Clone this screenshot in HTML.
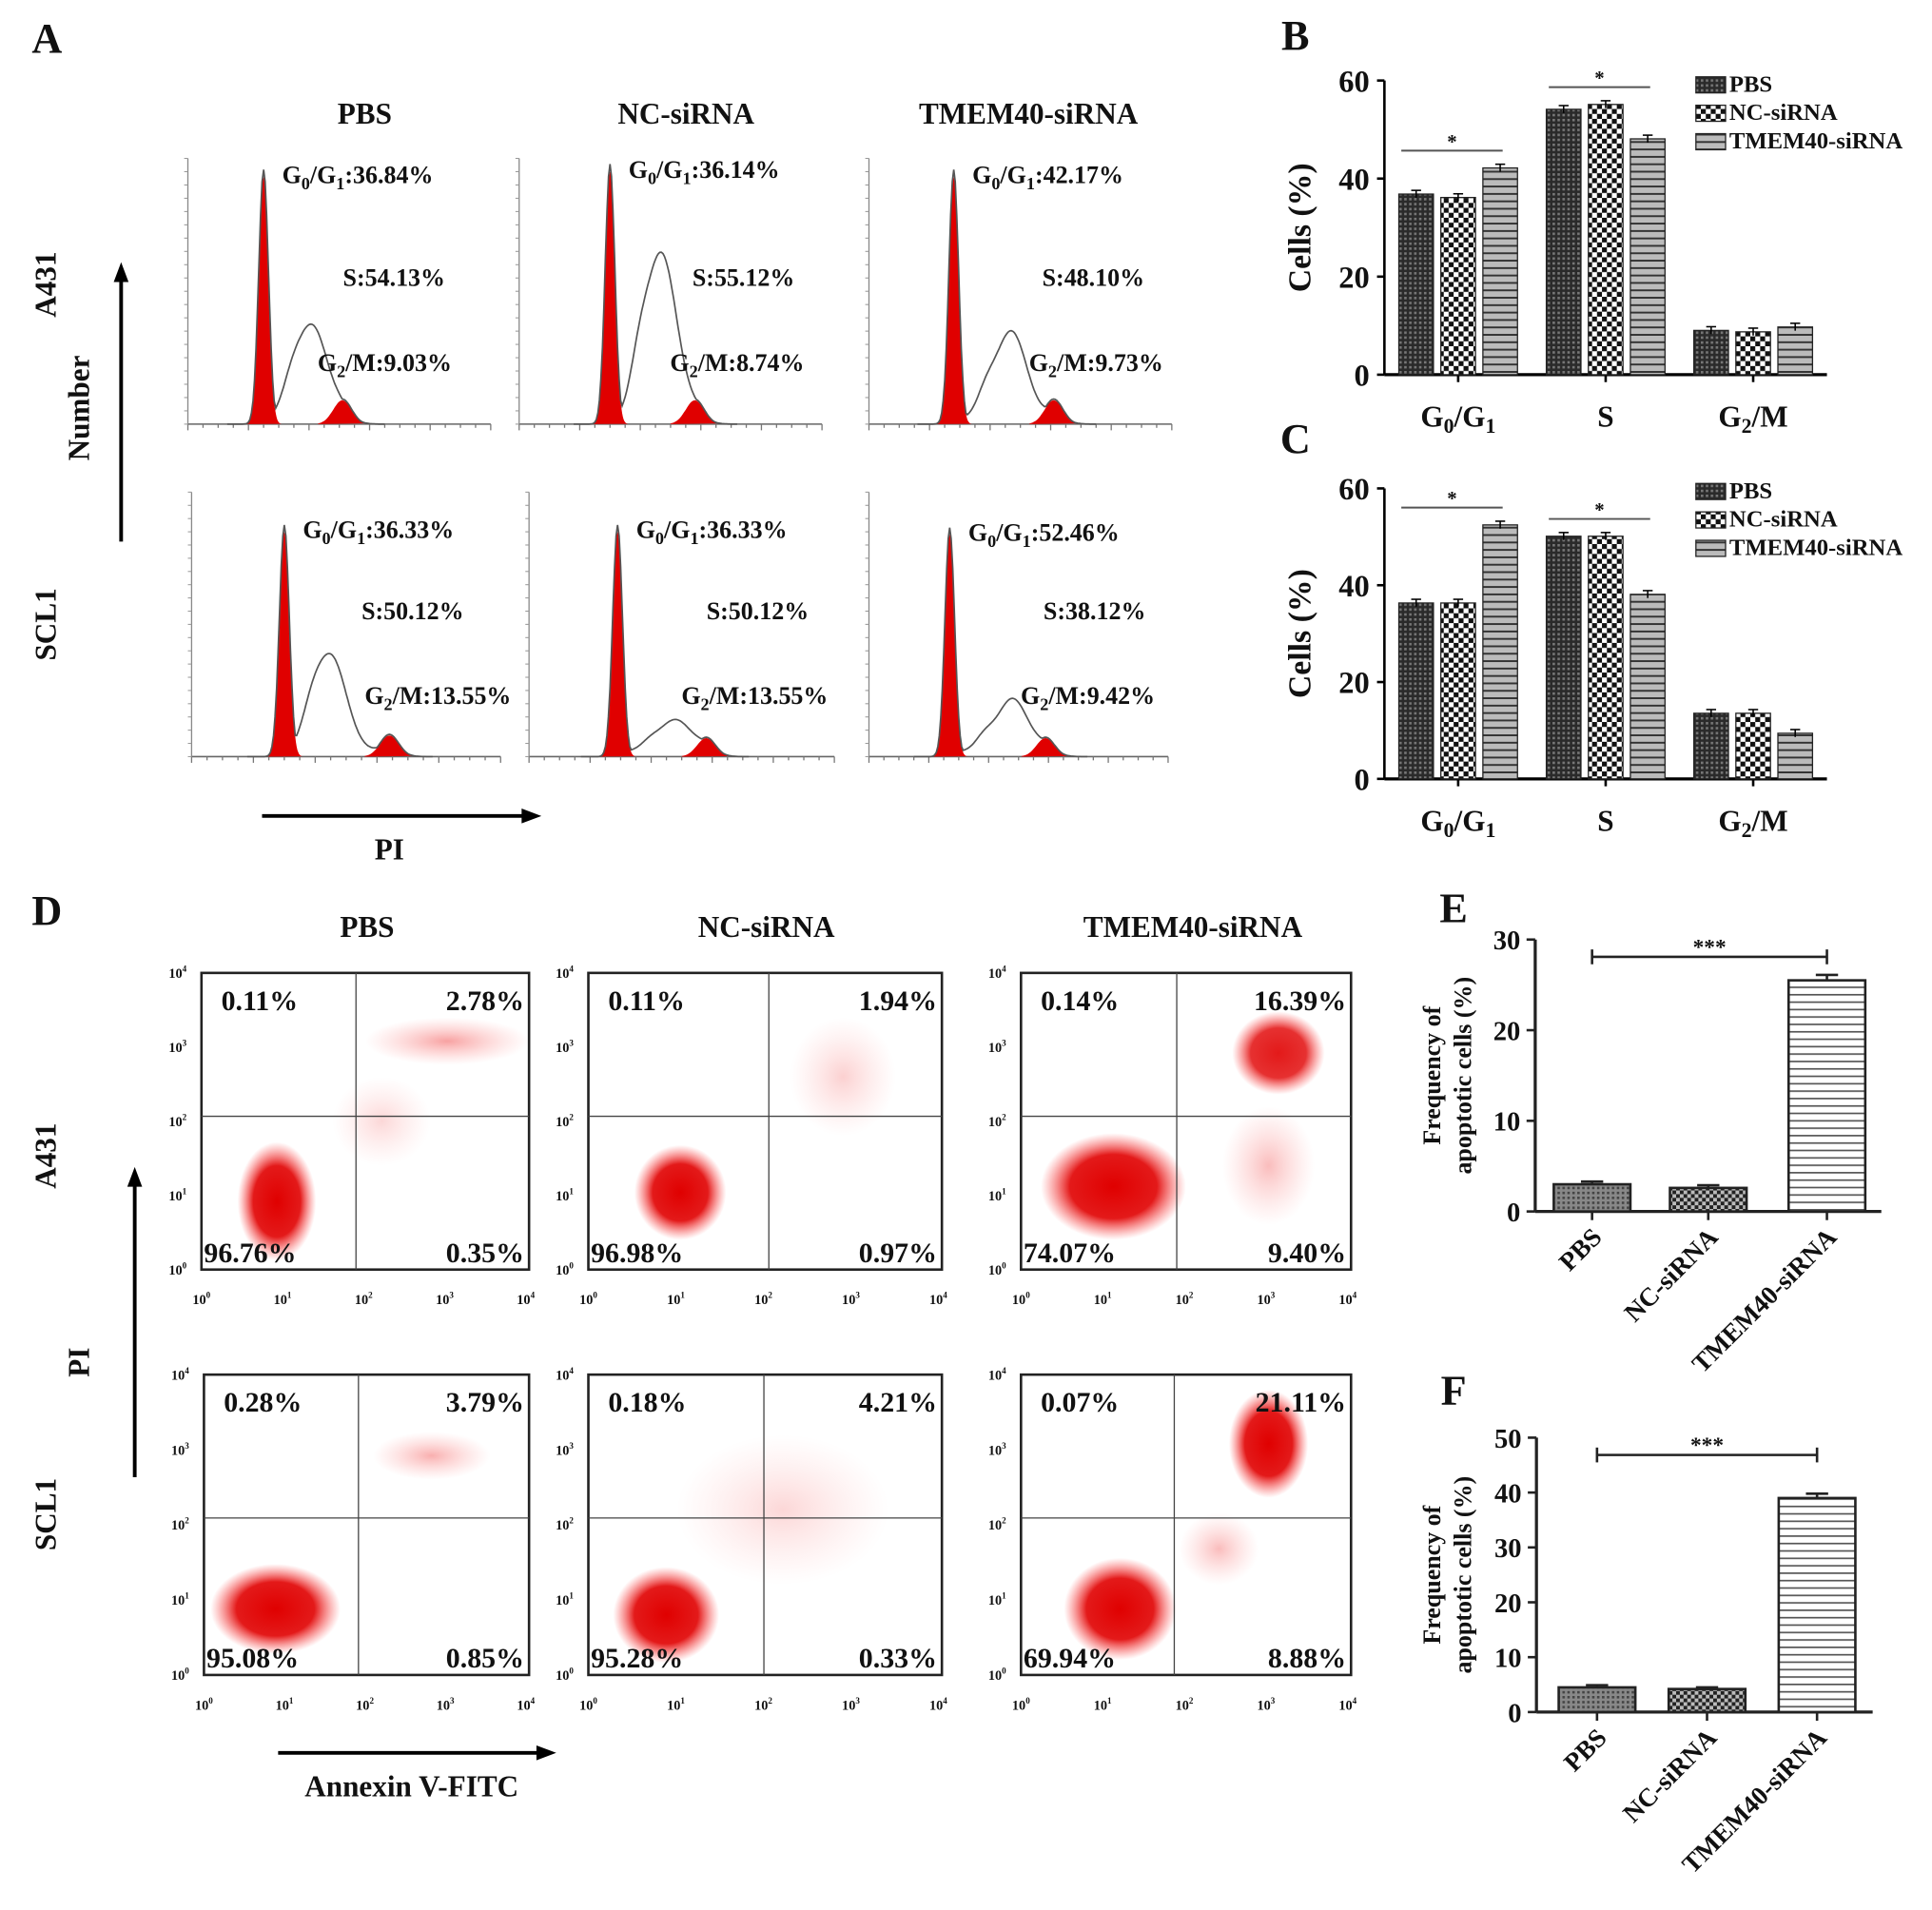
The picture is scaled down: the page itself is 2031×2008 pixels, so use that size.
<!DOCTYPE html>
<html><head><meta charset="utf-8"><style>
html,body{margin:0;padding:0;background:#fff}
svg{display:block}
text{font-family:"Liberation Serif",serif;font-weight:bold;fill:#111}
</style></head><body>
<svg id="fig" width="2031" height="2008" viewBox="0 0 1563 1545" xmlns="http://www.w3.org/2000/svg">
<defs>
<pattern id="pPBS" width="4" height="4" patternUnits="userSpaceOnUse"><rect width="4" height="4" fill="#2a2a2a"/><rect width="2" height="2" fill="#777"/></pattern>
<pattern id="pNC" width="8" height="8" patternUnits="userSpaceOnUse"><rect width="8" height="8" fill="#fff"/><rect width="4" height="4" fill="#111"/><rect x="4" y="4" width="4" height="4" fill="#111"/></pattern>
<pattern id="pTM" width="6" height="6" patternUnits="userSpaceOnUse"><rect width="6" height="6" fill="#bbb"/><rect y="0" width="6" height="1.5" fill="#333"/></pattern>
<pattern id="pE1" width="4" height="4" patternUnits="userSpaceOnUse"><rect width="4" height="4" fill="#888"/><rect width="2" height="2" fill="#444"/></pattern>
<pattern id="pE2" width="6" height="6" patternUnits="userSpaceOnUse"><rect width="6" height="6" fill="#bbb"/><rect width="3" height="3" fill="#222"/><rect x="3" y="3" width="3" height="3" fill="#222"/></pattern>
<pattern id="pE3" width="6" height="6" patternUnits="userSpaceOnUse"><rect width="6" height="6" fill="#fff"/><rect width="6" height="1.3" fill="#555"/></pattern>
<radialGradient id="gRed"><stop offset="0" stop-color="#e00000" stop-opacity="1"/><stop offset="0.6" stop-color="#e00000" stop-opacity="0.9"/><stop offset="1" stop-color="#ff4040" stop-opacity="0"/></radialGradient>
<radialGradient id="gRedL"><stop offset="0" stop-color="#f04040" stop-opacity="0.7"/><stop offset="1" stop-color="#ff8080" stop-opacity="0"/></radialGradient>
</defs>
<g id="root"></g>
</svg>
<script>
// ---- Panel A histogram data (model parameters, PI position 0-100, height fraction) ----
const histG1Pos=[25,30,28,30,29,27];
const histG1H=[0.93,0.95,0.93,0.85,0.85,0.84];
const histSPos=[41,47,47,45,48,48];
const histSH=[0.35,0.62,0.33,0.36,0.12,0.2];
const histG2Pos=[51,58,61,64,58,59];
const histG2H=[0.09,0.09,0.09,0.08,0.07,0.07];
const histLabels=[["36.84","54.13","9.03"],["36.14","55.12","8.74"],["42.17","48.10","9.73"],["36.33","50.12","13.55"],["36.33","50.12","13.55"],["52.46","38.12","9.42"]];
// ---- Panel B/C data ----
const phases=["G0/G1","S","G2/M"];
const groups=["PBS","NC-siRNA","TMEM40-siRNA"];
const bPBS=[36.84,54.13,9.03], bNC=[36.14,55.12,8.74], bTM=[42.17,48.10,9.73];
const cPBS=[36.33,50.12,13.55], cNC=[36.33,50.12,13.55], cTM=[52.46,38.12,9.42];
const cellTicks=[0,20,40,60];
// ---- Panel D quadrant percentages [UL, UR, LL, LR] ----
const quadA431=[["0.11%","2.78%","96.76%","0.35%"],["0.11%","1.94%","96.98%","0.97%"],["0.14%","16.39%","74.07%","9.40%"]];
const quadSCL1=[["0.28%","3.79%","95.08%","0.85%"],["0.18%","4.21%","95.28%","0.33%"],["0.07%","21.11%","69.94%","8.88%"]];
// ---- Panel E/F data ----
const eVals=[3.0,2.6,25.5], eErr=[0.3,0.3,0.6];
const fVals=[4.5,4.2,39.0], fErr=[0.4,0.3,0.8];
const eTicks=[0,10,20,30], fTicks=[0,10,20,30,40,50];

const NS="http://www.w3.org/2000/svg";
const root=document.getElementById('root');
function el(tag,attrs,parent){const e=document.createElementNS(NS,tag);for(const k in attrs)e.setAttribute(k,attrs[k]);(parent||root).appendChild(e);return e;}
function txt(x,y,s,size,parent,anchor,extra){const t=el('text',Object.assign({x:x,y:y,'font-size':size,'text-anchor':anchor||'middle'},extra||{}),parent);t.innerHTML=s;return t;}
// subscript: "_X" lowers only X
function SUB(a){
  const parts=a.split(/_(\w)/);let out=parts[0];
  for(let i=1;i<parts.length;i+=2){out+='<tspan font-size="70%" dy="5">'+parts[i]+'</tspan><tspan dy="-5">'+(parts[i+1]||'')+'</tspan>';}
  return out;
}

// ---------- Panel A ----------
const gA=el('g',{});


txt(38,42,'A',34,gA);
[['PBS',295],['NC-siRNA',555],['TMEM40-siRNA',832]].forEach(([s,x])=>{const t=txt(x,100,s,24,gA);});
txt(45,230,'A431',24,gA,'middle',{transform:'rotate(-90 45 230)'});
txt(45,505,'SCL1',24,gA,'middle',{transform:'rotate(-90 45 505)'});
txt(72,330,'Number',24,gA,'middle',{transform:'rotate(-90 72 330)'});
el('line',{x1:98,y1:438,x2:98,y2:222,stroke:'#000','stroke-width':3},gA);
el('polygon',{points:'98,212 92,228 104,228',fill:'#000'},gA);
el('line',{x1:212,y1:660,x2:425,y2:660,stroke:'#000','stroke-width':3},gA);
el('polygon',{points:'438,660 422,654 422,666',fill:'#000'},gA);
txt(315,695,'PI',24,gA);
const histBoxes=[[152,397,343,215],[420,665,343,215],[703,948,343,215],[155,405,612,214],[428,675,612,214],[703,945,612,214]];
const gauss=(v,m,s)=>Math.exp(-0.5*((v-m)/s)**2);
histBoxes.forEach((b,i)=>{
  const g=el('g',{},gA);
  
  
  const [x0,x1,base,H]=b; const xs=v=>x0+(x1-x0)*v/100; const ys=f=>base-H*f;
  el('line',{x1:x0,y1:base,x2:x1,y2:base,stroke:'#666','stroke-width':1.2},g);
  el('line',{x1:x0,y1:base,x2:x0,y2:base-H,stroke:'#888','stroke-width':1},g);
  for(let k=0;k<=20;k++){el('line',{x1:xs(k*5),y1:base,x2:xs(k*5),y2:base+(k%4==0?5:3),stroke:'#777','stroke-width':1},g);}
  for(let k=0;k<=20;k++){el('line',{x1:x0,y1:base-H*k/20,x2:x0-3,y2:base-H*k/20,stroke:'#999','stroke-width':0.8},g);}
  const g1=v=>histG1H[i]*gauss(v,histG1Pos[i],1.6);
  const g2=v=>histG2H[i]*gauss(v,histG2Pos[i],3);
  const sC=v=>histSH[i]*gauss(v,histSPos[i],5)+0.6*histSH[i]*gauss(v,(histG1Pos[i]+histSPos[i])/2+1,3)*0.4;
  let d1='M'+xs(histG1Pos[i]-6)+','+base, d2='M'+xs(histG2Pos[i]-8)+','+base, dl='M'+xs(histG1Pos[i]-12)+','+base;
  for(let v=histG1Pos[i]-6;v<=histG1Pos[i]+6;v+=0.25)d1+=' L'+xs(v).toFixed(1)+','+ys(g1(v)).toFixed(1);
  for(let v=histG2Pos[i]-8;v<=histG2Pos[i]+8;v+=0.5)d2+=' L'+xs(v).toFixed(1)+','+ys(g2(v)).toFixed(1);
  for(let v=histG1Pos[i]-12;v<=histG2Pos[i]+14;v+=0.5){
    const sCut=(v>histG1Pos[i]?1:gauss(v,histG1Pos[i],2))*(v<histG2Pos[i]?1:gauss(v,histG2Pos[i],4));
    dl+=' L'+xs(v).toFixed(1)+','+ys(Math.max(g1(v)*1.03,g2(v)*1.05,sC(v)*sCut+g2(v)*0.3+0.02*sCut)).toFixed(1);}
  el('path',{d:d1+' Z',fill:'#e00000'},g);
  el('path',{d:d2+' Z',fill:'#e00000'},g);
  el('path',{d:dl,fill:'none',stroke:'#555','stroke-width':1.3},g);
  const L=histLabels[i];
  const labX=xs(histG1Pos[i])+15, topY=ys(histG1H[i]);
  txt(labX,topY+5,SUB('G_0/G_1:'+L[0]+'%'),20,g,'start');
  txt(xs(histSPos[i])+25,ys(0.52),'S:'+L[1]+'%',20,g,'start');
  txt(xs(histG2Pos[i])-20,ys(0.2),SUB('G_2/M:'+L[2]+'%'),20,g,'start');
});

// ---------- Panels B & C ----------
function barPanel(name,letter,lx,ly,axisX,y0,y60,xEnd,vals,legY){
  const g=el('g',{});
  
  
  txt(lx,ly,letter,34,g);
  const ys=v=>y0-(y0-y60)*v/60;
  el('line',{x1:axisX,y1:y0,x2:axisX,y2:y60,stroke:'#000','stroke-width':2},g);
  el('line',{x1:axisX,y1:y0,x2:xEnd,y2:y0,stroke:'#000','stroke-width':2.5},g);
  cellTicks.forEach(t=>{el('line',{x1:axisX-6,y1:ys(t),x2:axisX,y2:ys(t),stroke:'#000','stroke-width':2},g);const tl=txt(axisX-12,ys(t)+9,t,25,g,'end');});
  const yt=txt(1060,(y0+y60)/2,'Cells (%)',26,g,'middle',{transform:'rotate(-90 1060 '+((y0+y60)/2)+')'});
  
  const fills=['url(#pPBS)','url(#pNC)','url(#pTM)'];
  const grpW=(xEnd-axisX)/3;
  phases.forEach((p,pi)=>{
    const cx=axisX+grpW*(pi+0.5);
    el('line',{x1:cx,y1:y0,x2:cx,y2:y0+6,stroke:'#000','stroke-width':2},g);
    const lab=p.replace('G0','G_0').replace('G1','G_1').replace('G2','G_2');
    const pl=txt(cx,y0+42,SUB(lab),24,g);
    for(let s=0;s<3;s++){
      const bx=cx-48+s*34, v=vals[s][pi];
      const r=el('rect',{x:bx,y:ys(v),width:28,height:y0-ys(v),fill:fills[s],stroke:'#222','stroke-width':1},g);
      
      
      el('line',{x1:bx+14,y1:ys(v)-3,x2:bx+14,y2:ys(v)+3,stroke:'#000','stroke-width':1.2},g);
      el('line',{x1:bx+10,y1:ys(v)-3,x2:bx+18,y2:ys(v)-3,stroke:'#000','stroke-width':1.2},g);
    }
    if(pi<2){const top=Math.max(vals[0][pi],vals[1][pi],vals[2][pi]);const yy=ys(top)-14;
      el('line',{x1:cx-46,y1:yy,x2:cx+36,y2:yy,stroke:'#555','stroke-width':1.5},g);txt(cx-5,yy-2,'*',16,g);}
  });
  const lgX=axisX+252;
  groups.forEach((gname,s)=>{const ly2=legY+s*23;
    const le=el('g',{},g);
    el('rect',{x:lgX,y:ly2-12,width:24,height:13,fill:fills[s],stroke:'#222'},le);
    txt(lgX+27,ly2,gname,19,le,'start');});
}
barPanel('panel-b','B',1048,40,1120,303,65,1478,[bPBS,bNC,bTM],74);
barPanel('panel-c','C',1048,366,1120,630,395,1478,[cPBS,cNC,cTM],403);

// ---------- Panel D ----------
const gD=el('g',{});


txt(38,748,'D',34,gD);
[['PBS',297],['NC-siRNA',620],['TMEM40-siRNA',965]].forEach(([s,x])=>txt(x,758,s,24,gD));
txt(45,935,'A431',24,gD,'middle',{transform:'rotate(-90 45 935)'});
txt(45,1225,'SCL1',24,gD,'middle',{transform:'rotate(-90 45 1225)'});
txt(72,1102,'PI',24,gD,'middle',{transform:'rotate(-90 72 1102)'});
el('line',{x1:109,y1:1195,x2:109,y2:955,stroke:'#000','stroke-width':3},gD);
el('polygon',{points:'109,944 103,960 115,960',fill:'#000'},gD);
el('line',{x1:225,y1:1418,x2:438,y2:1418,stroke:'#000','stroke-width':3},gD);
el('polygon',{points:'450,1418 434,1412 434,1424',fill:'#000'},gD);
txt(333,1453,'Annexin V-FITC',24,gD);
const dBoxes=[[163,428,787,1027,288,903],[476,762,787,1027,622,903],[826,1093,787,1027,952,903],[165,428,1112,1355,290,1228],[476,762,1112,1355,618,1228],[826,1093,1112,1355,950,1228]];
// cluster shapes as fractions of box: [cx, cy, rx, ry, opacity, light]
const clusters=[
 [[0.23,0.77,0.12,0.2,1,0],[0.75,0.23,0.25,0.08,0.7,1],[0.55,0.5,0.15,0.15,0.3,1]],
 [[0.26,0.74,0.13,0.16,1,0],[0.72,0.35,0.15,0.2,0.35,1]],
 [[0.28,0.72,0.22,0.18,1,0],[0.78,0.27,0.14,0.14,0.9,0],[0.75,0.65,0.14,0.2,0.5,1]],
 [[0.22,0.78,0.2,0.15,1,0],[0.7,0.27,0.18,0.08,0.6,1]],
 [[0.22,0.8,0.15,0.16,1,0],[0.55,0.45,0.3,0.25,0.3,1]],
 [[0.3,0.78,0.17,0.17,1,0],[0.75,0.23,0.12,0.18,1,0],[0.6,0.58,0.12,0.12,0.5,1]]
];
const quads=quadA431.concat(quadSCL1);
dBoxes.forEach((b,i)=>{
  const g=el('g',{},gD);
  
  
  const [x0,x1,y0,y1,qx,qy]=b;const w=x1-x0,h=y1-y0;
  clusters[i].forEach(c=>{el('ellipse',{cx:x0+c[0]*w,cy:y0+c[1]*h,rx:c[2]*w,ry:c[3]*h,fill:c[5]?'url(#gRedL)':'url(#gRed)',opacity:c[4]},g);});
  el('rect',{x:x0,y:y0,width:w,height:h,fill:'none',stroke:'#222','stroke-width':2},g);
  el('line',{x1:qx,y1:y0,x2:qx,y2:y1,stroke:'#444','stroke-width':1},g);
  el('line',{x1:x0,y1:qy,x2:x1,y2:qy,stroke:'#444','stroke-width':1},g);
  const q=quads[i];
  txt(x0+16,y0+30,q[0],23,g,'start');txt(x1-4,y0+30,q[1],23,g,'end');
  txt(x0+2,y1-6,q[2],23,g,'start');txt(x1-4,y1-6,q[3],23,g,'end');
  for(let k=0;k<=4;k++){const tx=x0+w*k/4*0.99;txt(tx,y1+28,'10<tspan font-size="7" dy="-5">'+k+'</tspan>',11,g,'middle',{'font-weight':'normal'});
    const ty=y1-h*k/4;txt(x0-12,ty+4,'10<tspan font-size="7" dy="-5">'+k+'</tspan>',11,g,'end',{'font-weight':'normal'});}
});

// ---------- Panels E & F ----------
function freqPanel(name,letter,lx,ly,axisX,y0,ytop,maxV,xEnd,vals,errs,ticks,barXs){
  const g=el('g',{});
  
  
  txt(lx,ly,letter,34,g);
  const ys=v=>y0-(y0-ytop)*v/maxV;
  el('line',{x1:axisX,y1:y0,x2:axisX,y2:ytop,stroke:'#222','stroke-width':2.5},g);
  el('line',{x1:axisX,y1:y0,x2:xEnd,y2:y0,stroke:'#222','stroke-width':2.5},g);
  ticks.forEach(t=>{el('line',{x1:axisX-7,y1:ys(t),x2:axisX,y2:ys(t),stroke:'#222','stroke-width':2},g);const tl=txt(axisX-12,ys(t)+8,t,22,g,'end');});
  const my=(y0+ytop)/2;
  txt(1165,my,'Frequency of',20,g,'middle',{transform:'rotate(-90 1165 '+my+')'});
  txt(1190,my,'apoptotic cells (%)',20,g,'middle',{transform:'rotate(-90 1190 '+my+')'});
  const fills=['url(#pE1)','url(#pE2)','url(#pE3)'];
  vals.forEach((v,s)=>{const bx=barXs[s];
    const r=el('rect',{x:bx,y:ys(v),width:62,height:y0-ys(v),fill:fills[s],stroke:'#222','stroke-width':2},g);
    
    
    el('line',{x1:bx+31,y1:ys(v+errs[s]),x2:bx+31,y2:ys(v),stroke:'#222','stroke-width':2},g);
    el('line',{x1:bx+22,y1:ys(v+errs[s]),x2:bx+40,y2:ys(v+errs[s]),stroke:'#222','stroke-width':2},g);
    el('line',{x1:bx+31,y1:y0,x2:bx+31,y2:y0+7,stroke:'#222','stroke-width':2},g);
    const tx=bx+40,ty=y0+22;const tl=txt(tx,ty,groups[s],21,g,'end',{transform:'rotate(-45 '+tx+' '+ty+')'});
    
  });
  const sy=ys(maxV)+14;
  el('line',{x1:barXs[0]+31,y1:sy,x2:barXs[2]+31,y2:sy,stroke:'#222','stroke-width':2},g);
  el('line',{x1:barXs[0]+31,y1:sy-6,x2:barXs[0]+31,y2:sy+6,stroke:'#222','stroke-width':2},g);
  el('line',{x1:barXs[2]+31,y1:sy-6,x2:barXs[2]+31,y2:sy+6,stroke:'#222','stroke-width':2},g);
  txt((barXs[0]+barXs[2])/2+31,sy-2,'***',18,g);
}
freqPanel('panel-e','E',1176,746,1242,980,760,30,1522,eVals,eErr,eTicks,[1257,1351,1447]);
freqPanel('panel-f','F',1176,1136,1243,1385,1163,50,1515,fVals,fErr,fTicks,[1261,1350,1439]);
</script>
</body></html>
